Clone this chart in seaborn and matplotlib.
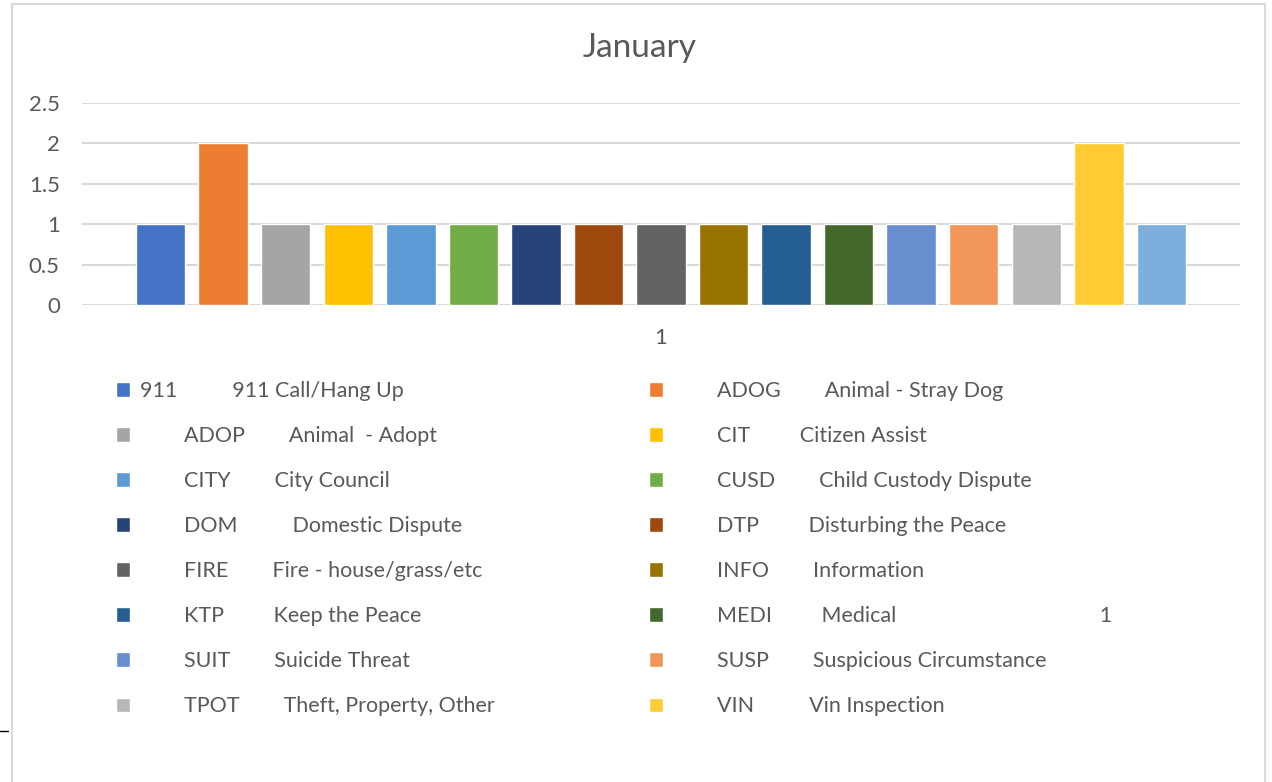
import matplotlib
matplotlib.use("Agg")
import matplotlib.pyplot as plt
from matplotlib.lines import Line2D
from matplotlib.patches import Rectangle
import seaborn as sns
import pandas as pd

# data
month = "1"
codes = ["911", "ADOG", "ADOP", "CIT", "CITY", "CUSD", "DOM", "DTP", "FIRE",
         "INFO", "KTP", "MEDI", "SUIT", "SUSP", "TPOT", "VIN", "(none)"]
counts = [1, 2, 1, 1, 1, 1, 1, 1, 1, 1, 1, 1, 1, 1, 1, 2, 1]
colors = ["#4472C4", "#ED7D31", "#A5A5A5", "#FFC000", "#5B9BD5", "#70AD47",
          "#264478", "#9E480E", "#636363", "#997300", "#255E91", "#43682B",
          "#698ED0", "#F1975A", "#B7B7B7", "#FFCD33", "#7CAFDD"]
# legend texts as they appear (spacing kept from the tab-separated labels)
legend_left = [
    "911          911 Call/Hang Up",
    "        ADOP        Animal  - Adopt",
    "        CITY        City Council",
    "        DOM          Domestic Dispute",
    "        FIRE        Fire - house/grass/etc",
    "        KTP         Keep the Peace",
    "        SUIT        Suicide Threat",
    "        TPOT        Theft, Property, Other",
]
legend_right = [
    "        ADOG        Animal - Stray Dog",
    "        CIT         Citizen Assist",
    "        CUSD        Child Custody Dispute",
    "        DTP         Disturbing the Peace",
    "        INFO        Information",
    "        MEDI         Medical" + " " * 37 + "1",
    "        SUSP        Suspicious Circumstance",
    "        VIN          Vin Inspection",
]

df = pd.DataFrame({"month": month, "code": codes, "count": counts})

sns.set_theme(style="white")
plt.rcParams["font.family"] = ["Lato", "DejaVu Sans"]
grey = "#595959"

fig = plt.figure(figsize=(12.72, 7.82), dpi=100)
ax = fig.add_axes([82 / 1272, 1 - 305 / 782, (1240 - 82) / 1272, (305 - 103) / 782])

sns.barplot(data=df, x="month", y="count", hue="code", hue_order=codes,
            palette=colors, saturation=1, gap=0.21, ax=ax, legend=True)

leg = ax.get_legend()
handles = list(leg.legend_handles)
leg.remove()

ax.set_ylim(0, 2.5)
ax.set_xlim(-0.4356, 0.4356)
ax.set_yticks([0, 0.5, 1, 1.5, 2, 2.5])
ax.set_yticklabels(["0", "0.5", "1", "1.5", "2", "2.5"])
ax.yaxis.grid(True, color="#D9D9D9", lw=1.5)
ax.set_axisbelow(True)
for s in ax.spines.values():
    s.set_visible(False)
ax.tick_params(axis="y", length=0, pad=16, labelsize=16, labelcolor=grey)
ax.tick_params(axis="x", length=0, pad=16.5, labelsize=16, labelcolor=grey)
ax.set_xlabel("")
ax.set_ylabel("")

fig.text(640 / 1272, 1 - 48 / 782, "January", ha="center", va="center",
         fontsize=24, color=grey)

common = dict(frameon=False, fontsize=15.5, handlelength=0.65, handleheight=0.65,
              handletextpad=0.45, labelspacing=1.163, borderpad=0, borderaxespad=0,
              loc="upper left", labelcolor=grey)
lg1 = fig.legend([handles[i] for i in range(0, 16, 2)], legend_left,
                 bbox_to_anchor=(116 / 1272, 1 - 381 / 782), **common)
lg2 = fig.legend([handles[i] for i in range(1, 16, 2)], legend_right,
                 bbox_to_anchor=(649 / 1272, 1 - 381 / 782), **common)

# chart border
fig.patches.append(Rectangle((12 / 1272, -0.1), (1265 - 12) / 1272, 1.1 - 4 / 782,
                             transform=fig.transFigure, fill=False,
                             edgecolor="#D9D9D9", lw=1.5))
fig.lines.append(Line2D([0, 8 / 1272], [1 - 731 / 782] * 2, transform=fig.transFigure,
                        color="black", lw=1))

fig.savefig("out.png", dpi=100, facecolor="white")
